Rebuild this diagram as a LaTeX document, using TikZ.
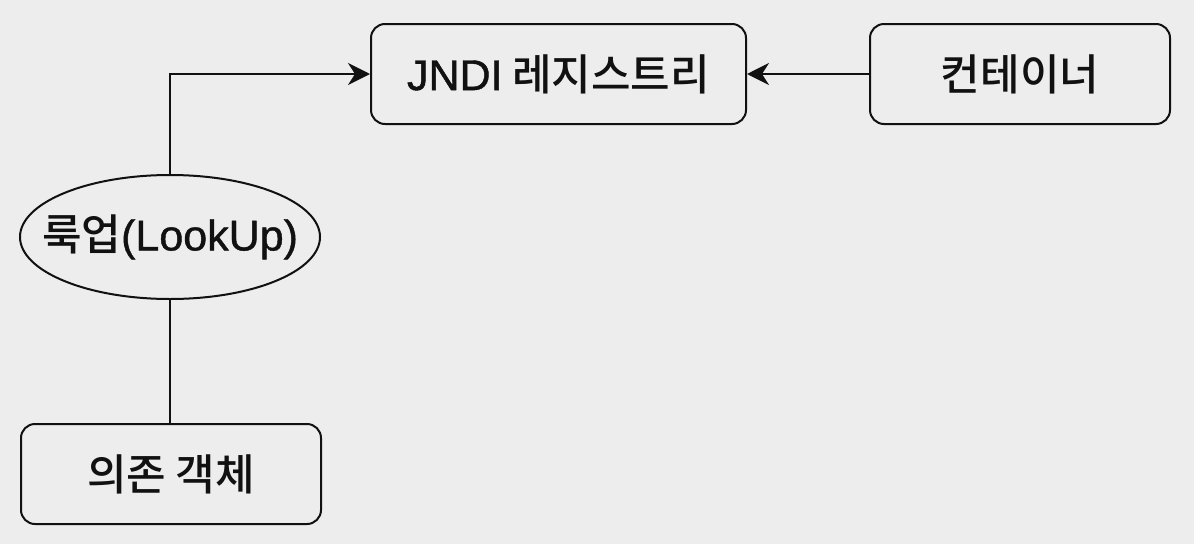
\documentclass[tikz,border=0pt]{standalone}
\usepackage{fontspec}
\setmainfont{Noto Sans CJK KR}[BoldFont={* Medium}]
\newfontfamily\lat{Liberation Sans}[BoldFont={Liberation Sans},BoldFeatures={FakeBold=1.0}]
\usetikzlibrary{shapes.geometric,arrows.meta}
\definecolor{bg}{HTML}{EDEDED}
\definecolor{ink}{HTML}{111111}
\begin{document}
\begin{tikzpicture}[x=1pt,y=-1pt,
  txt/.style={font=\fontsize{43}{48}\selectfont\bfseries,text=ink,inner sep=0pt},
  box/.style={txt,draw=ink,line width=2pt,rounded corners=14pt,minimum width=375pt,minimum height=100pt},
  oval/.style={draw=ink,line width=2pt,ellipse,minimum width=300pt,minimum height=124pt,inner sep=0pt},
  conn/.style={draw=ink,line width=2pt},
  arr/.style={conn,-{Stealth[length=22pt,width=22pt,inset=7pt]}}]
\fill[bg] (0,0) rectangle (1194,544);
\useasboundingbox (0,0) rectangle (1194,544);
\node[box] (jndi) at (558.5,74) {{\lat JNDI} 레지스트리};
\node[box,minimum width=300pt] (cont) at (1020,74) {컨테이너};
\node[oval] (look) at (170,237) {};
\node[txt] (looktxt) at (look.center) {룩업{\lat (LookUp)}};
\node[box,minimum width=300pt] (dep) at (171,474) {의존 객체};
\draw[arr] (look.north) |- (jndi.west);
\draw[arr] (cont.west) -- (jndi.east);
\draw[conn] (look.south) -- (dep.north -| look.south);
\end{tikzpicture}
\end{document}
